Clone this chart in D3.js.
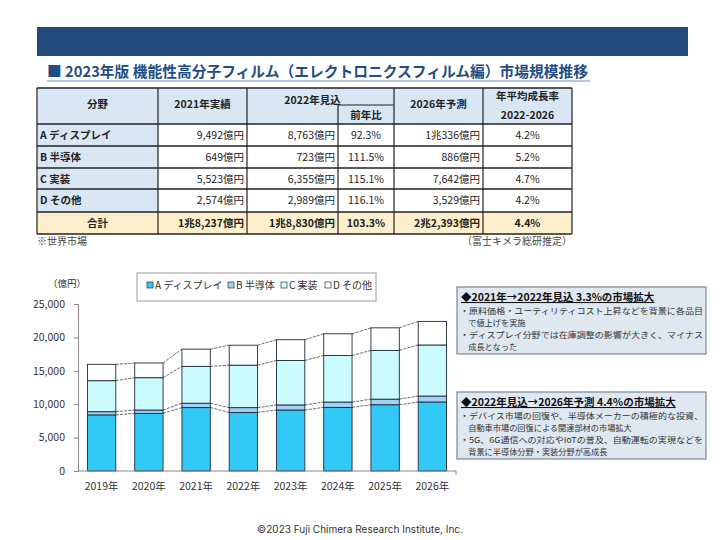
<!DOCTYPE html>
<html>
<head>
<meta charset="utf-8">
<script src="https://cdn.jsdelivr.net/npm/d3@7"></script>
<style>
  body { margin: 0; background: #fff; }
  svg text { font-family: "Noto Sans CJK JP", "Noto Sans", sans-serif; }
</style>
</head>
<body>
<div class="figure"></div>
<script>
// ---- chart data (億円) ----
const years = ["2019年", "2020年", "2021年", "2022年", "2023年", "2024年", "2025年", "2026年"];
const seriesNames = ["A ディスプレイ", "B 半導体", "C 実装", "D その他"];
const displayVals = [8400, 8630, 9492, 8763, 9130, 9520, 9920, 10336];
const semiVals    = [480, 500, 649, 723, 760, 800, 840, 886];
const mountVals   = [4640, 4840, 5523, 6355, 6650, 6970, 7290, 7642];
const otherVals   = [2450, 2200, 2574, 2989, 3110, 3250, 3380, 3529];
const yTicks = [0, 5000, 10000, 15000, 20000, 25000];

// ---- table data ----
const tableFields = ["A ディスプレイ", "B 半導体", "C 実装", "D その他"];
const t2021 = ["9,492億円", "649億円", "5,523億円", "2,574億円"];
const t2022 = ["8,763億円", "723億円", "6,355億円", "2,989億円"];
const tYoY  = ["92.3%", "111.5%", "115.1%", "116.1%"];
const t2026 = ["1兆336億円", "886億円", "7,642億円", "3,529億円"];
const tCagr = ["4.2%", "5.2%", "4.7%", "4.2%"];
const tTotal = ["合計", "1兆8,237億円", "1兆8,830億円", "103.3%", "2兆2,393億円", "4.4%"];

const note1 = ["◆2021年→2022年見込 3.3%の市場拡大",
  "・原料価格・ユーティリティコスト上昇などを背景に各品目",
  "　で値上げを実施",
  "・ディスプレイ分野では在庫調整の影響が大きく、マイナス",
  "　成長となった"];
const note2 = ["◆2022年見込→2026年予測 4.4％の市場拡大",
  "・デバイス市場の回復や、半導体メーカーの積極的な投資、",
  "　自動車市場の回復による関連部材の市場拡大",
  "・5G、6G通信への対応やIoTの普及、自動運転の実現などを",
  "　背景に半導体分野・実装分野が高成長"];

const colors = ["#33c9f7", "#a3d0f7", "#ccfbfd", "#ffffff"];

const svg = d3.select(".figure").append("svg")
    .attr("width", 720).attr("height", 540);

// banner + title
svg.append("rect").attr("x", 37).attr("y", 27).attr("width", 651).attr("height", 29)
    .attr("fill", "#244a7c");
svg.append("text").attr("x", 47).attr("y", 77)
    .text("■ 2023年版 機能性高分子フィルム（エレクトロニクスフィルム編）市場規模推移")
    .attr("font-size", "15px").attr("font-weight", "bold").attr("fill", "#1f4e85")
    .attr("textLength", 541).attr("lengthAdjust", "spacingAndGlyphs");
svg.append("line").attr("x1", 47).attr("x2", 590).attr("y1", 81).attr("y2", 81)
    .attr("stroke", "#9fb3cf").attr("stroke-width", 1.5);

// ---- table ----
const colX = [37, 158, 247, 338, 394, 483, 572];
const rowY = [88, 124, 146, 168, 189, 212, 234];
const tbl = svg.append("g");
// header background
tbl.append("rect").attr("x", colX[0]).attr("y", rowY[0])
    .attr("width", colX[6] - colX[0]).attr("height", rowY[1] - rowY[0]).attr("fill", "#d9e7f5");
// first column body background
tableFields.forEach((f, i) => {
  tbl.append("rect").attr("x", colX[0]).attr("y", rowY[i + 1])
      .attr("width", colX[1] - colX[0]).attr("height", rowY[i + 2] - rowY[i + 1]).attr("fill", "#d9e7f5");
});
tbl.append("rect").attr("x", colX[0]).attr("y", rowY[5])
    .attr("width", colX[6] - colX[0]).attr("height", rowY[6] - rowY[5]).attr("fill", "#fdefcb");

// grid lines
rowY.forEach((y) => {
  tbl.append("line").attr("x1", colX[0]).attr("x2", colX[6]).attr("y1", y).attr("y2", y)
      .attr("stroke", "#222").attr("stroke-width", 1.4);
});
[0, 1, 2, 4, 5, 6].forEach((c) => {
  tbl.append("line").attr("x1", colX[c]).attr("x2", colX[c]).attr("y1", rowY[0]).attr("y2", rowY[6])
      .attr("stroke", "#222").attr("stroke-width", 1.2);
});
tbl.append("line").attr("x1", colX[3]).attr("x2", colX[3]).attr("y1", 105).attr("y2", rowY[6])
    .attr("stroke", "#222").attr("stroke-width", 1.2);
tbl.append("line").attr("x1", colX[3]).attr("x2", colX[4]).attr("y1", 105).attr("y2", 105)
    .attr("stroke", "#222").attr("stroke-width", 1.2);

function cell(txt, x, y, anchor, bold) {
  tbl.append("text").attr("x", x).attr("y", y).text(txt)
      .attr("font-size", "10.5px").attr("fill", "#222")
      .attr("font-weight", bold ? "bold" : "normal")
      .attr("text-anchor", anchor);
}
// header
cell("分野", (colX[0] + colX[1]) / 2, 108, "middle", true);
cell("2021年実績", (colX[1] + colX[2]) / 2, 108, "middle", true);
cell("2022年見込", (colX[2] + colX[4]) / 2 - 8, 104, "middle", true);
cell("前年比", (colX[3] + colX[4]) / 2, 119, "middle", true);
cell("2026年予測", (colX[4] + colX[5]) / 2, 108, "middle", true);
cell("年平均成長率", (colX[5] + colX[6]) / 2, 100, "middle", true);
cell("2022-2026", (colX[5] + colX[6]) / 2, 119, "middle", true);
// body rows
tableFields.forEach((f, i) => {
  const y = rowY[i + 1] + 15;
  cell(f, colX[0] + 3, y, "start", true);
  cell(t2021[i], colX[2] - 3, y, "end", false);
  cell(t2022[i], colX[3] - 3, y, "end", false);
  cell(tYoY[i], (colX[3] + colX[4]) / 2, y, "middle", false);
  cell(t2026[i], colX[5] - 3, y, "end", false);
  cell(tCagr[i], (colX[5] + colX[6]) / 2, y, "middle", false);
});
const ty = rowY[5] + 15;
cell(tTotal[0], (colX[0] + colX[1]) / 2, ty, "middle", true);
cell(tTotal[1], colX[2] - 3, ty, "end", true);
cell(tTotal[2], colX[3] - 3, ty, "end", true);
cell(tTotal[3], (colX[3] + colX[4]) / 2, ty, "middle", true);
cell(tTotal[4], colX[5] - 3, ty, "end", true);
cell(tTotal[5], (colX[5] + colX[6]) / 2, ty, "middle", true);

svg.append("text").attr("x", 37).attr("y", 245).text("※世界市場")
    .attr("font-size", "10px").attr("fill", "#444");
svg.append("text").attr("x", 572).attr("y", 245).text("（富士キメラ総研推定）")
    .attr("font-size", "10px").attr("fill", "#444").attr("text-anchor", "end");

// ---- stacked bar chart ----
const x = d3.scaleBand().domain(years).range([78, 456]).paddingInner(0.4).paddingOuter(0.2);
const y = d3.scaleLinear().domain([0, 25000]).range([471, 304]);

const rows = years.map((yr, i) => ({
  year: yr, a: displayVals[i], b: semiVals[i], c: mountVals[i], d: otherVals[i]
}));
const stack = d3.stack().keys(["a", "b", "c", "d"])(rows);

const chart = svg.append("g");
// connectors between bars
stack.forEach((layer) => {
  for (let i = 0; i < layer.length - 1; i++) {
    chart.append("line")
        .attr("x1", x(years[i]) + x.bandwidth()).attr("y1", y(layer[i][1]))
        .attr("x2", x(years[i + 1])).attr("y2", y(layer[i + 1][1]))
        .attr("stroke", "#444").attr("stroke-width", 0.8).attr("stroke-dasharray", "3,1.2");
  }
});
stack.forEach((layer, k) => {
  chart.selectAll(".bar" + k).data(layer).enter().append("rect")
      .attr("x", (d) => x(d.data.year))
      .attr("y", (d) => y(d[1]))
      .attr("width", x.bandwidth())
      .attr("height", (d) => y(d[0]) - y(d[1]))
      .attr("fill", colors[k])
      .attr("stroke", "#1d2b3a").attr("stroke-width", 0.9);
});

// axes
const yAxis = chart.append("g").attr("transform", "translate(78,0)")
    .call(d3.axisLeft(y).tickValues(yTicks).tickSize(4).tickPadding(9).tickFormat(d3.format(",")));
yAxis.selectAll("text").attr("font-size", "10.5px").attr("fill", "#333");
yAxis.selectAll("line, path").attr("stroke", "#888");

const xAxis = chart.append("g").attr("transform", "translate(0,471)")
    .call(d3.axisBottom(x).tickSize(0).tickPadding(12));
xAxis.selectAll("text").attr("font-size", "10.5px").attr("fill", "#333");
xAxis.select("path").attr("stroke", "#888").attr("d", "M78,0H456V4");

svg.append("text").attr("x", 48).attr("y", 287).text("（億円）")
    .attr("font-size", "9.5px").attr("fill", "#333");

// legend
const lg = svg.append("g");
lg.append("rect").attr("x", 137).attr("y", 273).attr("width", 239).attr("height", 28)
    .attr("fill", "#fff").attr("stroke", "#999");
const legendX = [147, 228, 281, 325];
seriesNames.forEach((n, i) => {
  lg.append("rect").attr("x", legendX[i]).attr("y", 282).attr("width", 6).attr("height", 6)
      .attr("fill", colors[i]).attr("stroke", "#333").attr("stroke-width", 0.7);
  lg.append("text").attr("x", legendX[i] + 8).attr("y", 289).text(n)
      .attr("font-size", "10px").attr("fill", "#333");
});

// ---- note boxes ----
function noteBox(lines, bx, by, bh) {
  const g = svg.append("g");
  g.append("rect").attr("x", bx).attr("y", by).attr("width", 249).attr("height", bh)
      .attr("fill", "#dfe7f1").attr("stroke", "#7d8796").attr("stroke-width", 1.2);
  g.append("text").attr("x", bx + 4).attr("y", by + 14).text(lines[0])
      .attr("font-size", "10.5px").attr("font-weight", "bold").attr("fill", "#111")
      .attr("text-decoration", "underline");
  lines.slice(1).forEach((l, i) => {
    const t = g.append("text").attr("x", bx + 3).attr("y", by + 27 + i * 12).text(l)
        .attr("font-size", "8.2px").attr("fill", "#333");
    // stretch the long lines across the box like the original
    if (l.length > 24) t.attr("textLength", 243).attr("lengthAdjust", "spacingAndGlyphs");
  });
}
noteBox(note1, 457, 287, 67);
noteBox(note2, 457, 392, 67);

svg.append("text").attr("x", 360).attr("y", 533)
    .text("©2023 Fuji Chimera Research Institute, Inc.")
    .attr("font-size", "10px").attr("fill", "#333").attr("text-anchor", "middle")
    .style("font-family", "Inter, 'Noto Sans', sans-serif");
</script>
</body>
</html>
